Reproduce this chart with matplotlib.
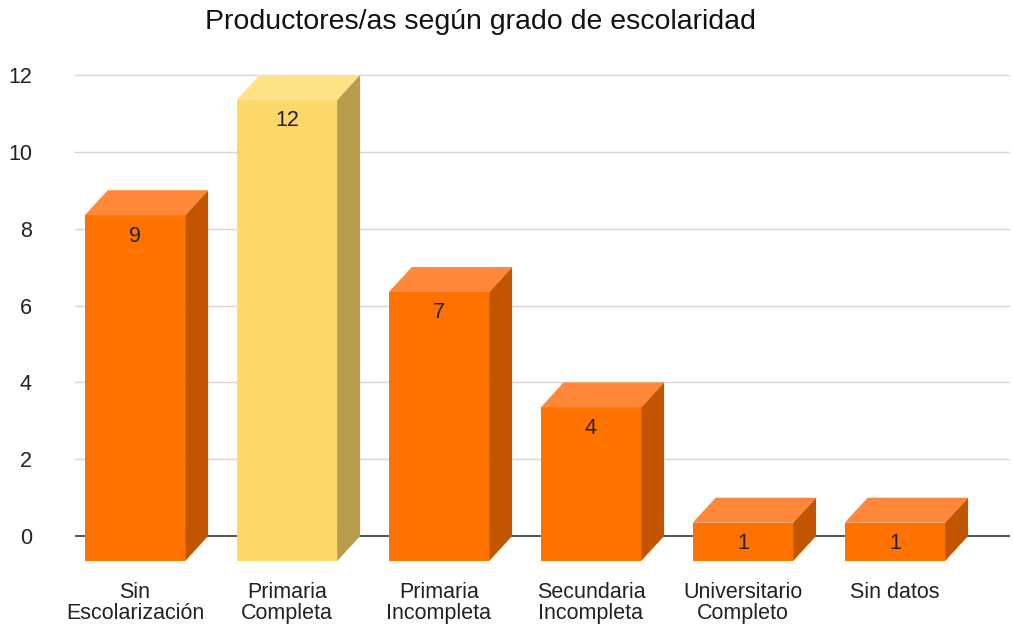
import numpy as np
import matplotlib
matplotlib.use("Agg")
import matplotlib.pyplot as plt

# data
categories = ["Sin\nEscolarización", "Primaria\nCompleta", "Primaria\nIncompleta",
              "Secundaria\nIncompleta", "Universitario\nCompleto", "Sin datos"]
values = [9, 12, 7, 4, 1, 1]
highlight = [False, True, False, False, False, False]
yticks = [0, 2, 4, 6, 8, 10, 12]
title = "Productores/as según grado de escolaridad"

plt.rcParams['font.family'] = ['Liberation Sans', 'DejaVu Sans']

# fake 3d look: front face shifted down-left from the back plane
half_w = 0.33
depth_x = 0.151
depth_y = 0.65

orange = {"front": "#ff7200", "side": "#c25600", "top": "#ff873a"}
yellow = {"front": "#fdd76a", "side": "#b99c4c", "top": "#ffe187"}

fig = plt.figure(figsize=(10.13, 6.26), dpi=100)
ax = fig.add_axes([0.074, 0.1006, 0.923, 0.792])

ax.set_xlim(-0.395, 5.757)
ax.set_ylim(-0.7, 12.2)

for t in yticks:
    ax.axhline(t, color="#333333" if t == 0 else "#d6d6d6",
               lw=1.2 if t == 0 else 1.0, zorder=1)

for i, (v, hl) in enumerate(zip(values, highlight)):
    c = yellow if hl else orange
    xl, xr = i - half_w, i + half_w
    bot, top = -depth_y, v - depth_y
    # front
    ax.fill([xl, xr, xr, xl], [bot, bot, top, top], color=c["front"], lw=0, zorder=3)
    # right side
    ax.fill([xr, xr + depth_x, xr + depth_x, xr], [bot, 0, v, top],
            color=c["side"], lw=0, zorder=3)
    # top
    ax.fill([xl, xr, xr + depth_x, xl + depth_x], [top, top, v, v],
            color=c["top"], lw=0, zorder=3)
    ax.annotate(str(v), (i, top), xytext=(0, -15), textcoords="offset points",
                ha="center", va="center", fontsize=15.5, color="#222222", zorder=4)

ax.set_yticks(yticks)
ax.set_yticklabels([str(t) for t in yticks])
ax.set_xticks(range(len(categories)))
ax.set_xticklabels(categories, linespacing=1.0)
ax.tick_params(axis="y", length=0, pad=31, labelsize=15.5, labelcolor="#222222")
ax.tick_params(axis="x", length=0, pad=14, labelsize=15.5, labelcolor="#222222")
for lab in ax.get_yticklabels():
    lab.set_horizontalalignment("right")

for s in ax.spines.values():
    s.set_visible(False)

fig.text(0.474, 0.965, title, ha="center", va="center", fontsize=20.5, color="#111111")

fig.savefig("out.png", dpi=100)
